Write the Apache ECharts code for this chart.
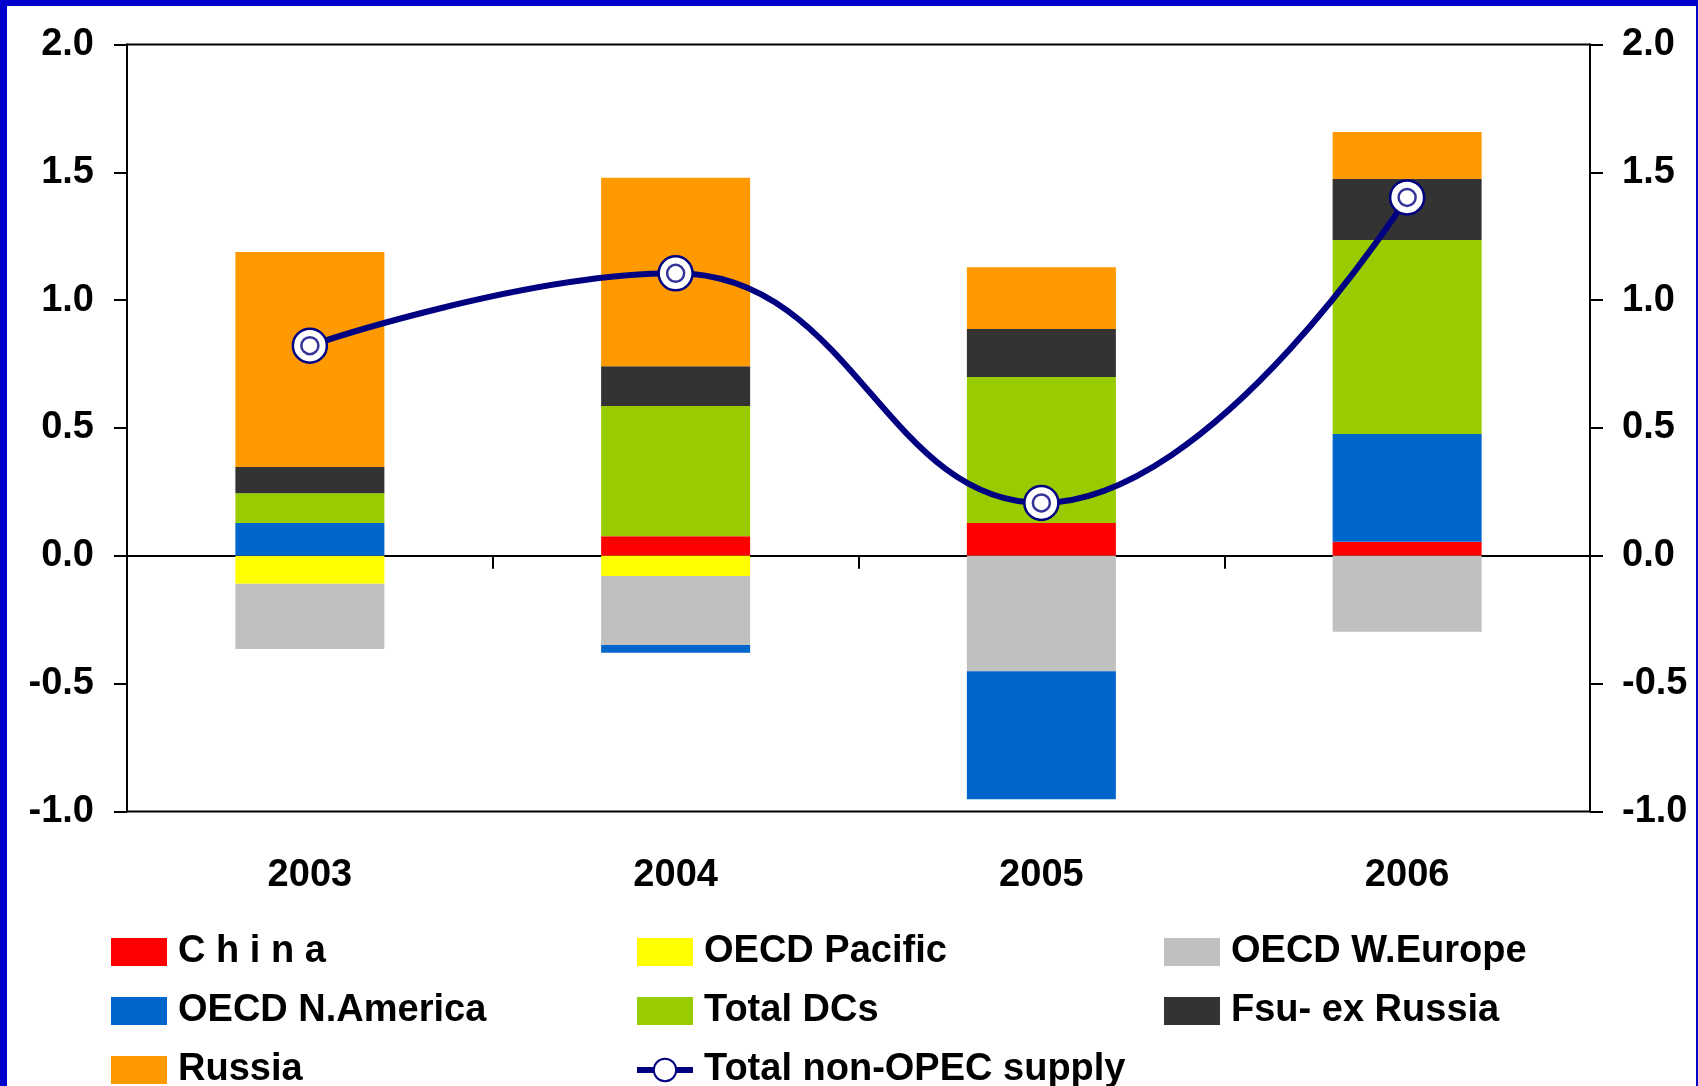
<!DOCTYPE html>
<html><head><meta charset="utf-8">
<script src="https://cdn.jsdelivr.net/npm/echarts@6/dist/echarts.min.js"></script>
<style>html,body{margin:0;padding:0;background:#fff;overflow:hidden}#c{width:1698px;height:1086px}</style>
</head><body><div id="c"></div>
<script>
// ---- data ----
const years = ['2003', '2004', '2005', '2006'];
const china        = [0,      0.077,  0.128,  0.055];
const oecdPacific  = [-0.109, -0.079, 0,      0];
const oecdWEurope  = [-0.255, -0.270, -0.451, -0.297];
const oecdNAmerica = [0.128,  -0.030, -0.501, 0.422];
const totalDCs     = [0.117,  0.509,  0.571,  0.758];
const fsuExRussia  = [0.102,  0.156,  0.188,  0.239];
const russia       = [0.841,  0.737,  0.242,  0.184];
const totalNonOpec = [0.822,  1.105,  0.207,  1.402];
const yMin = -1.0, yMax = 2.0, yStep = 0.5;

const FONT = "'Liberation Sans', Arial, sans-serif";
const NAVY = '#000080';

function barSeries(name, data, color) {
  return {
    name: name, type: 'bar', stack: 'total', data: data, barWidth: 149,
    itemStyle: { color: color }, emphasis: { disabled: true }
  };
}

const legendText = { fontFamily: FONT, fontWeight: 'bold', fontSize: 38, color: '#000', lineHeight: 38, padding: [0, 0, 0, 6] };
function legend(left, items) {
  return {
    orient: 'vertical', left: left, top: 933, height: 220, padding: 0,
    itemWidth: 56, itemHeight: 28, itemGap: 21,
    selectedMode: false, textStyle: legendText,
    data: items.map(n => typeof n === 'string' ? { name: n, icon: 'rect' } : n)
  };
}

function yAxis(pos, margin) {
  return {
    type: 'value', position: pos, min: yMin, max: yMax, interval: yStep,
    axisLine: { show: true, lineStyle: { color: '#000', width: 2 } },
    axisTick: { show: true, length: 13, lineStyle: { color: '#000', width: 2 } },
    splitLine: { show: false },
    axisLabel: { margin: margin, fontFamily: FONT, fontWeight: 'bold', fontSize: 38, color: '#000',
      padding: [6, 0, 0, 0], formatter: v => v.toFixed(1) }
  };
}

const chart = echarts.init(document.getElementById('c'), null, { renderer: 'canvas' });
chart.setOption({
  backgroundColor: '#fff',
  animation: false,
  grid: { left: 127, right: 108, top: 44.5, bottom: 274.5, show: true, borderColor: '#000', borderWidth: 2, backgroundColor: 'transparent' },
  legend: [
    legend(111, ['C h i n a', 'OECD N.America', 'Russia']),
    legend(634, ['OECD Pacific', 'Total DCs', {
      name: 'Total non-OPEC supply',
      lineStyle: { color: NAVY, width: 6 },
      itemStyle: { color: '#FFFFFF', borderColor: NAVY, borderWidth: 2 }
    }]),
    legend(1164, ['OECD W.Europe', 'Fsu- ex Russia'])
  ],
  xAxis: [
    {
      type: 'category', data: years, position: 'bottom',
      axisLine: { show: false, onZero: false }, axisTick: { show: false },
      axisLabel: { margin: 45, fontFamily: FONT, fontWeight: 'bold', fontSize: 38, color: '#000' }
    },
    {
      type: 'category', data: years, position: 'top',
      axisLine: { show: true, onZero: true, lineStyle: { color: '#000', width: 2 } },
      axisTick: { show: true, inside: true, length: 13, interval: 0, lineStyle: { color: '#000', width: 2 } },
      axisLabel: { show: false }
    }
  ],
  yAxis: [yAxis('left', 33), yAxis('right', 32)],
  series: [
    barSeries('C h i n a', china, '#FF0000'),
    barSeries('OECD Pacific', oecdPacific, '#FFFF00'),
    barSeries('OECD W.Europe', oecdWEurope, '#C0C0C0'),
    barSeries('OECD N.America', oecdNAmerica, '#0066CC'),
    barSeries('Total DCs', totalDCs, '#99CC00'),
    barSeries('Fsu- ex Russia', fsuExRussia, '#333333'),
    barSeries('Russia', russia, '#FF9900'),
    {
      name: 'Total non-OPEC supply', type: 'line', data: totalNonOpec, smooth: 0.45,
      symbol: 'circle', symbolSize: 34, z: 5,
      lineStyle: { color: NAVY, width: 6 },
      itemStyle: { color: '#FFFFFF', borderColor: NAVY, borderWidth: 2.5 },
      emphasis: { disabled: true }
    },
    {
      name: 'marker-inner', type: 'scatter', data: totalNonOpec, symbol: 'circle', symbolSize: 17, z: 6,
      silent: true, itemStyle: { color: '#FFFFFF', borderColor: NAVY, borderWidth: 2.5 },
      emphasis: { disabled: true }
    }
  ],
  graphic: [
    { type: 'rect', left: 0, top: 0, shape: { width: 1698, height: 6 }, style: { fill: '#0000CC' }, silent: true },
    { type: 'rect', left: 0, top: 0, shape: { width: 7, height: 1086 }, style: { fill: '#0000CC' }, silent: true },
    { type: 'rect', left: 1696, top: 0, shape: { width: 2, height: 1086 }, style: { fill: '#0000CC' }, silent: true }
  ]
});
</script></body></html>
